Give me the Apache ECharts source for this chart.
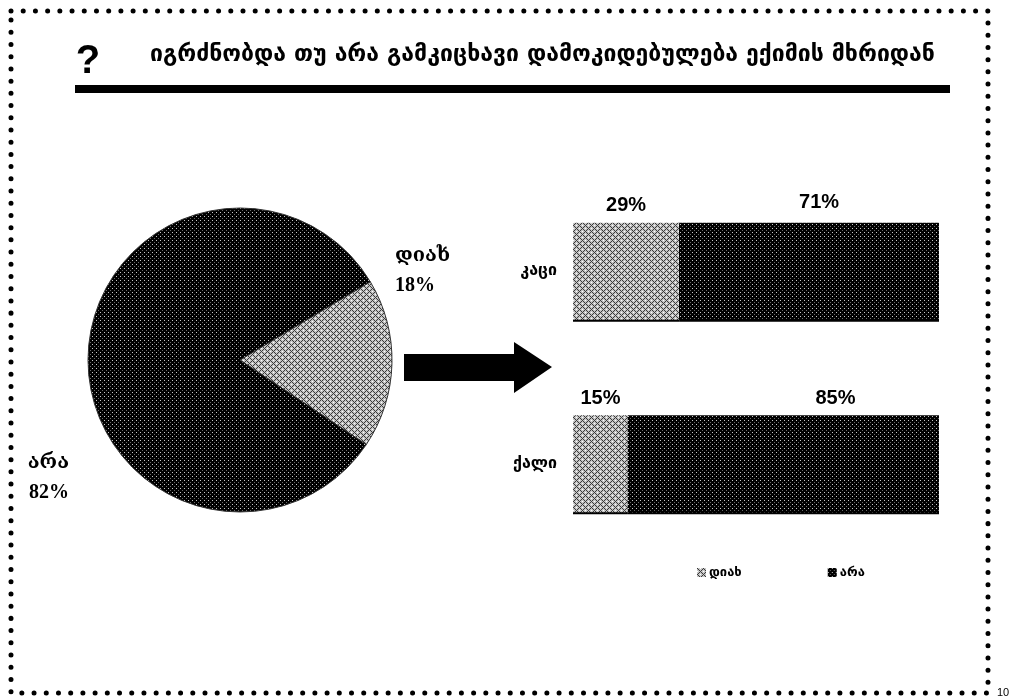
<!DOCTYPE html>
<html>
<head>
<meta charset="utf-8">
<script src="https://cdn.jsdelivr.net/npm/echarts@6/dist/echarts.min.js"></script>
<style>html,body{margin:0;padding:0;background:#fff}#c{width:1009px;height:698px}</style>
</head>
<body>
<div id="c"></div>
<script>
// ---- data ----
const titleText = 'იგრძნობდა თუ არა გამკიცხავი დამოკიდებულება ექიმის მხრიდან';
const answerNames = ['დიახ', 'არა'];
const pieValues = [18, 82];
const barCategories = ['კაცი', 'ქალი'];
const barYes = [29, 15];
const barNo = [71, 85];
const pageNumber = '10';

// ---- fill patterns ----
function makeTile(size, fn) {
  const c = document.createElement('canvas');
  c.width = size; c.height = size;
  const ctx = c.getContext('2d');
  for (let y = 0; y < size; y++) for (let x = 0; x < size; x++) {
    ctx.fillStyle = fn(x, y); ctx.fillRect(x, y, 1, 1);
  }
  return c;
}
const darkTile = makeTile(4, (x, y) => (x === 0 && y === 0) ? '#c8c8c8' : (x === 2 && y === 2) ? '#6a6a6a' : '#000');
const lightTile = makeTile(6, (x, y) => {
  const d1 = (x + y) % 6, d2 = (x - y + 6) % 6;
  if (d1 === 0 || d2 === 0) return '#3a3a3a';
  if (d1 === 3 && d2 === 3) return '#ffffff';
  return '#c4c4c4';
});
const darkFill = { image: darkTile, repeat: 'repeat' };
const lightFill = { image: lightTile, repeat: 'repeat' };
const fills = [lightFill, darkFill];

const chart = echarts.init(document.getElementById('c'));
const geo = "'DejaVu Sans', 'Liberation Sans', sans-serif";
const serif = "'Liberation Serif', 'DejaVu Serif', serif";

const pieLabelOffsets = [[-7, -93], [-9, 122]];

chart.setOption({
  animation: false,
  backgroundColor: '#fff',
  graphic: [
    { type: 'rect', shape: { x: 11, y: 11, width: 977, height: 682 },
      style: { fill: null, stroke: '#000', lineWidth: 5, lineDash: [0.01, 12.2], lineCap: 'round' } },
    { type: 'text', x: 997, y: 693, style: { text: pageNumber, fontSize: 11, fontFamily: 'Liberation Sans', fill: '#000', verticalAlign: 'middle' } },
    { type: 'text', x: 88, y: 62, style: { text: '?', fontSize: 40, fontWeight: 'bold', fontFamily: 'Liberation Sans', fill: '#000', align: 'center', verticalAlign: 'middle' } },
    { type: 'text', x: 150, y: 55, style: { text: titleText, fontSize: 23, fontWeight: 'bold', fontFamily: geo, fill: '#000', verticalAlign: 'middle' } },
    { type: 'rect', shape: { x: 75, y: 85, width: 875, height: 8 }, style: { fill: '#000' } },
    { type: 'polygon', shape: { points: [[404, 354], [514, 354], [514, 342], [552, 367], [514, 393], [514, 381], [404, 381]] }, style: { fill: '#000' } }
  ],
  legend: {
    left: 692, top: 561,
    itemWidth: 9, itemHeight: 9, itemGap: 86,
    icon: 'rect',
    data: answerNames,
    textStyle: { fontFamily: geo, fontSize: 13, fontWeight: 'bold', color: '#000', padding: [0, 0, 0, -2] }
  },
  grid: { left: 573, right: 70, top: 175, bottom: 138 },
  xAxis: { type: 'value', min: 0, max: 100, show: false },
  yAxis: {
    type: 'category', data: barCategories, inverse: true,
    axisLine: { show: false }, axisTick: { show: false },
    axisLabel: { fontFamily: geo, fontSize: 16, fontWeight: 'bold', color: '#000', margin: 16 }
  },
  series: [
    {
      type: 'pie', center: [240, 360], radius: 152, startAngle: 31, clockwise: true,
      data: answerNames.map((n, i) => ({
        name: n, value: pieValues[i],
        itemStyle: { color: fills[i] },
        label: { offset: pieLabelOffsets[i] }
      })),
      itemStyle: { borderColor: '#333', borderWidth: 1 },
      label: {
        position: 'outside', formatter: '{b}\n{d}%',
        fontFamily: serif, fontSize: 20, fontWeight: 'bold', color: '#000', lineHeight: 30
      },
      labelLine: { show: false, length: 5, length2: 0 },
      emphasis: { disabled: true }
    },
    {
      type: 'bar', name: answerNames[0], stack: 's', barWidth: 97,
      data: barYes,
      itemStyle: { color: lightFill, shadowColor: '#000', shadowOffsetY: 2, shadowBlur: 0 },
      label: { show: true, position: 'top', formatter: '{c}%', fontFamily: 'Liberation Sans', fontWeight: 'bold', fontSize: 20, color: '#000', distance: 7 }
    },
    {
      type: 'bar', name: answerNames[1], stack: 's', barWidth: 97,
      data: barNo.map((v, i) => ({ value: v, label: { offset: i === 1 ? [52, 0] : [10, -3] } })),
      itemStyle: { color: darkFill, shadowColor: '#000', shadowOffsetY: 2, shadowBlur: 0 },
      label: { show: true, position: 'top', formatter: '{c}%', fontFamily: 'Liberation Sans', fontWeight: 'bold', fontSize: 20, color: '#000', distance: 7 }
    }
  ]
});
</script>
</body>
</html>
